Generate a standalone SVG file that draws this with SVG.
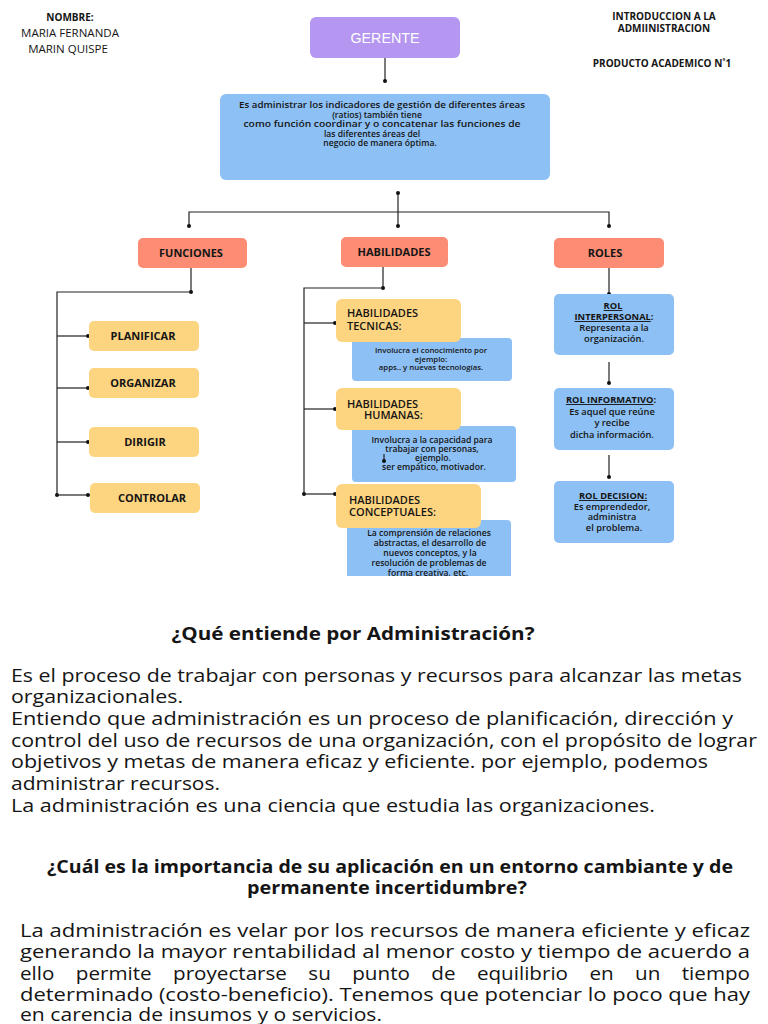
<svg xmlns="http://www.w3.org/2000/svg" width="768" height="1024" viewBox="0 0 768 1024">
<defs>
<style>
.t{font-family:'Open Sans','Liberation Sans',sans-serif;fill:#151515}
.hd{font-weight:700;font-size:10px;text-anchor:middle}
.nm{font-weight:400;font-size:11.5px;text-anchor:middle}
.lab{font-weight:700;font-size:11px;text-anchor:middle}
.hab{font-weight:600;font-size:11px}
.sm{font-weight:600;font-size:7.8px;text-anchor:middle}
.md{font-weight:600;font-size:8.6px;text-anchor:middle}
.rt{font-weight:700;font-size:9.3px;text-anchor:middle}
.rx{font-weight:600;font-size:9.3px;text-anchor:middle}
.blue{fill:#8dc0f4}
.yel{fill:#fdd47f}
.sal{fill:#fc8d74}
.ln{stroke:#222;stroke-width:1.2;fill:none;marker-end:url(#d)}
.body{font-size:18px;font-weight:400}
.q{font-size:17.5px;font-weight:700;text-anchor:middle}
</style>
<marker id="d" viewBox="-3 -3 6 6" markerWidth="5" markerHeight="5" markerUnits="userSpaceOnUse" refX="0" refY="0"><circle r="2.4" fill="#111"/></marker>
<clipPath id="cut"><rect x="0" y="0" width="768" height="576"/></clipPath>
</defs>
<rect width="768" height="1024" fill="#ffffff"/>

<g id="header-left">
<text class="t hd" x="70" y="21" font-size="10.5">NOMBRE:</text>
<text class="t nm" x="70" y="37">MARIA FERNANDA</text>
<text class="t nm" x="68" y="53">MARIN QUISPE</text>
</g>
<g id="header-right">
<text class="t hd" x="664" y="20">INTRODUCCION A LA</text>
<text class="t hd" x="664" y="32">ADMIINISTRACION</text>
<text class="t hd" x="662" y="67">PRODUCTO ACADEMICO N˚1</text>
</g>

<g id="connectors">
<path class="ln" d="M385 58 V81"/>
<path class="ln" d="M398 193 V226" marker-start="url(#d)"/>
<path class="ln" d="M189 226 V212 H609 V226" marker-start="url(#d)"/>
<path class="ln" d="M191 268 V292"/>
<path class="ln" d="M191 292 H57 V495"/>
<path class="ln" d="M57 336 H88"/>
<path class="ln" d="M57 388 H88"/>
<path class="ln" d="M57 442 H88"/>
<path class="ln" d="M57 495 H88"/>
<path class="ln" d="M383 267 V288"/>
<path class="ln" d="M383 288 H304 V494"/>
<path class="ln" d="M304 323 H335"/>
<path class="ln" d="M304 409 H335"/>
<path class="ln" d="M304 494 H335"/>
<path class="ln" d="M609 268 V294"/>
<path class="ln" d="M609 362 V383"/>
<path class="ln" d="M609 455 V477"/>
</g>

<g id="gerente">
<rect x="310" y="17" width="150" height="41" rx="6" fill="#b596f0"/>
<text x="385" y="43" font-family="'Liberation Sans',sans-serif" font-size="15.5" fill="#ffffff" text-anchor="middle" textLength="69" lengthAdjust="spacingAndGlyphs">GERENTE</text>
</g>

<g id="definicion">
<rect class="blue" x="220" y="94" width="330" height="86" rx="6"/>
<text class="t md" font-size="9" x="382" y="108" textLength="286" lengthAdjust="spacingAndGlyphs">Es administrar los indicadores de gestión de diferentes áreas</text>
<text class="t md" font-size="9" x="377" y="117.5">(ratios) también tiene</text>
<text class="t md" font-size="9" x="382" y="127" textLength="277" lengthAdjust="spacingAndGlyphs">como  función  coordinar  y  o  concatenar las funciones de</text>
<text class="t md" font-size="9" x="372" y="136.5">las  diferentes  áreas del</text>
<text class="t md" font-size="9" x="380" y="146">negocio de manera óptima.</text>
</g>

<g id="funciones">
<rect class="sal" x="138" y="238" width="109" height="30" rx="5"/>
<text class="t lab" x="191" y="257">FUNCIONES</text>
</g>
<g id="habilidades">
<rect class="sal" x="341" y="237" width="107" height="30" rx="5"/>
<text class="t lab" x="394" y="256">HABILIDADES</text>
</g>
<g id="roles">
<rect class="sal" x="554" y="238" width="110" height="30" rx="5"/>
<text class="t lab" x="605" y="257">ROLES</text>
</g>

<g id="planificar">
<rect class="yel" x="89" y="321" width="110" height="30" rx="5"/>
<text class="t lab" x="143" y="340">PLANIFICAR</text>
</g>
<g id="organizar">
<rect class="yel" x="89" y="368" width="110" height="30" rx="5"/>
<text class="t lab" x="143" y="387">ORGANIZAR</text>
</g>
<g id="dirigir">
<rect class="yel" x="89" y="427" width="110" height="30" rx="5"/>
<text class="t lab" x="145" y="446">DIRIGIR</text>
</g>
<g id="controlar">
<rect class="yel" x="90" y="483" width="110" height="30" rx="5"/>
<text class="t lab" x="152" y="502">CONTROLAR</text>
</g>

<g id="hab-tecnicas-desc">
<rect class="blue" x="352" y="338" width="160" height="43" rx="4"/>
<text class="t sm" x="431" y="353">Involucra el conocimiento por</text>
<text class="t sm" x="431" y="361.5">ejemplo:</text>
<text class="t sm" x="431" y="370">apps.. y nuevas tecnologías.</text>
</g>
<g id="hab-tecnicas">
<rect class="yel" x="336" y="299" width="125" height="43" rx="6"/>
<text class="t hab" x="347" y="317">HABILIDADES</text>
<text class="t hab" x="347" y="330">TECNICAS:</text>
</g>

<g id="hab-humanas-desc">
<rect class="blue" x="352" y="426" width="164" height="56" rx="4"/>
<text class="t md" x="432" y="443">Involucra a la capacidad para</text>
<text class="t md" x="432" y="452">trabajar con personas,</text>
<text class="t md" x="433" y="461">ejemplo.</text>
<text class="t md" x="434" y="470">ser empático, motivador.</text>
<path class="ln" d="M384 454 V461"/>
</g>
<g id="hab-humanas">
<rect class="yel" x="336" y="388" width="125" height="42" rx="6"/>
<text class="t hab" x="347" y="408">HABILIDADES</text>
<text class="t hab" x="364" y="419">HUMANAS:</text>
</g>

<g id="hab-conceptuales-desc" clip-path="url(#cut)">
<rect class="blue" x="347" y="520" width="164" height="70" rx="4"/>
<text class="t md" x="429" y="536">La comprensión de relaciones</text>
<text class="t md" x="430" y="546">abstractas, el desarrollo de</text>
<text class="t md" x="430" y="556">nuevos conceptos, y la</text>
<text class="t md" x="429" y="566">resolución de problemas de</text>
<text class="t md" x="428" y="576">forma creativa, etc.</text>
</g>
<g id="hab-conceptuales">
<rect class="yel" x="336" y="484" width="145" height="44" rx="6"/>
<text class="t hab" font-size="12" x="349" y="504">HABILIDADES</text>
<text class="t hab" font-size="12" x="349" y="516">CONCEPTUALES:</text>
</g>

<g id="rol-interpersonal">
<rect class="blue" x="554" y="294" width="120" height="61" rx="5"/>
<text class="t rt" x="613" y="309" text-decoration="underline">ROL</text>
<text class="t rt" x="614" y="320"><tspan text-decoration="underline">INTERPERSONAL</tspan>:</text>
<text class="t rx" x="614" y="331">Representa a la</text>
<text class="t rx" x="614" y="342">organización.</text>
</g>
<g id="rol-informativo">
<rect class="blue" x="554" y="388" width="120" height="62" rx="5"/>
<text class="t rt" x="611" y="403"><tspan text-decoration="underline">ROL INFORMATIVO</tspan>:</text>
<text class="t rx" x="612" y="415">Es aquel que reúne</text>
<text class="t rx" x="612" y="426">y recibe</text>
<text class="t rx" x="612" y="438">dicha información.</text>
</g>
<g id="rol-decision">
<rect class="blue" x="554" y="481" width="120" height="62" rx="5"/>
<text class="t rt" x="613" y="499" text-decoration="underline">ROL DECISION:</text>
<text class="t rx" x="612" y="510">Es emprendedor,</text>
<text class="t rx" x="612" y="520">administra</text>
<text class="t rx" x="614" y="531">el problema.</text>
</g>

<g id="pregunta-1">
<text class="t q" x="353" y="640" textLength="363" lengthAdjust="spacingAndGlyphs">¿Qué entiende por Administración?</text>
<text class="t body" x="11" y="682" textLength="731" lengthAdjust="spacingAndGlyphs">Es el proceso de trabajar con personas y recursos para alcanzar las metas</text>
<text class="t body" x="11" y="703" textLength="172" lengthAdjust="spacingAndGlyphs">organizacionales.</text>
<text class="t body" x="11" y="725" textLength="722" lengthAdjust="spacingAndGlyphs">Entiendo que administración es un proceso de planificación, dirección y</text>
<text class="t body" x="11" y="747" textLength="746" lengthAdjust="spacingAndGlyphs">control del uso de recursos de una organización, con el propósito de lograr</text>
<text class="t body" x="11" y="768" textLength="697" lengthAdjust="spacingAndGlyphs">objetivos y metas de manera eficaz y eficiente. por ejemplo, podemos</text>
<text class="t body" x="11" y="790" textLength="209" lengthAdjust="spacingAndGlyphs">administrar recursos.</text>
<text class="t body" x="11" y="812" textLength="644" lengthAdjust="spacingAndGlyphs">La administración es una ciencia que estudia las organizaciones.</text>
</g>

<g id="pregunta-2">
<text class="t q" x="390" y="873" textLength="686" lengthAdjust="spacingAndGlyphs">¿Cuál es la importancia de su aplicación en un entorno cambiante y de</text>
<text class="t q" x="387" y="894" textLength="280" lengthAdjust="spacingAndGlyphs">permanente incertidumbre?</text>
<text class="t body" x="20" y="937" textLength="730" lengthAdjust="spacingAndGlyphs">La administración es velar por los recursos de manera eficiente y eficaz</text>
<text class="t body" x="20" y="958" textLength="730" lengthAdjust="spacingAndGlyphs">generando la mayor rentabilidad al menor costo y tiempo de acuerdo a</text>
<text class="t body" x="20" y="980" word-spacing="14" textLength="730" lengthAdjust="spacingAndGlyphs">ello permite proyectarse su punto de equilibrio en un tiempo</text>
<text class="t body" x="20" y="1001" textLength="730" lengthAdjust="spacingAndGlyphs">determinado (costo-beneficio). Tenemos que potenciar lo poco que hay</text>
<text class="t body" x="20" y="1021" textLength="362" lengthAdjust="spacingAndGlyphs">en carencia de insumos y o servicios.</text>
</g>
</svg>
